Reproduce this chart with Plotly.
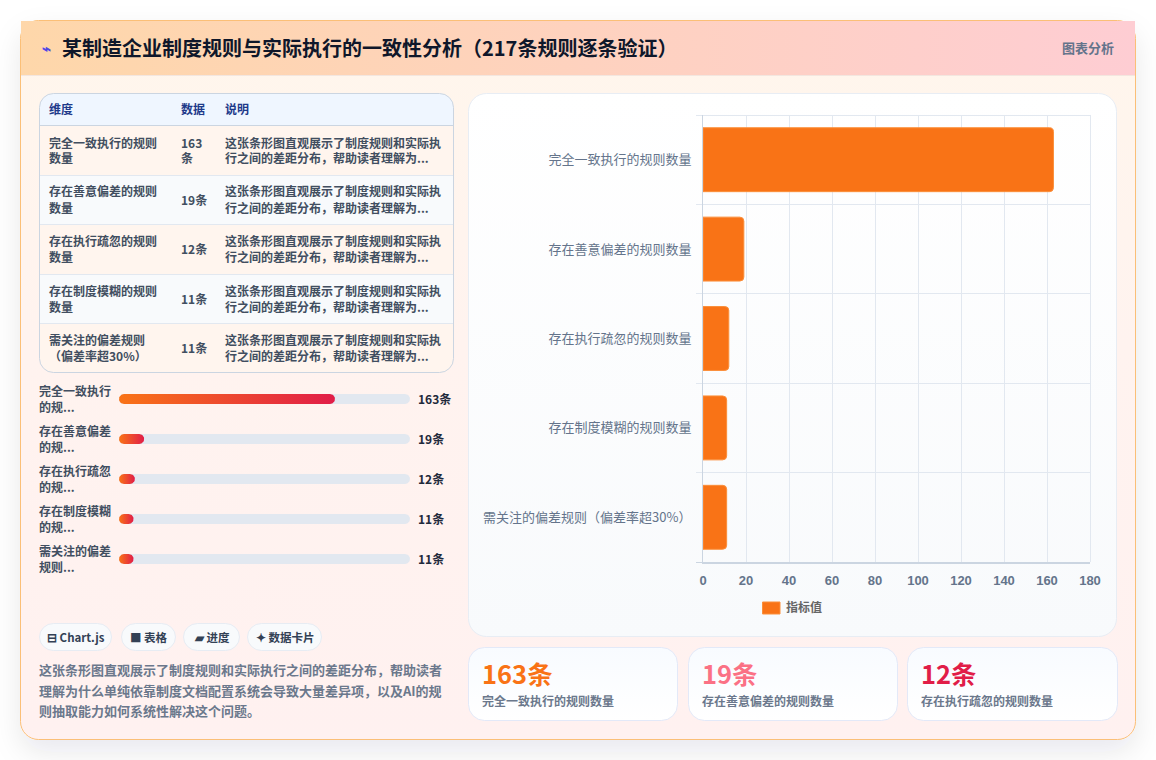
import base64
import numpy as np
import plotly.graph_objects as go

# ---- data ----
categories = ["完全一致执行的规则数量", "存在善意偏差的规则数量", "存在执行疏忽的规则数量",
              "存在制度模糊的规则数量", "需关注的偏差规则（偏差率超30%）"]
rule_counts = [163, 19, 12, 11, 11]
count_unit = "条"
axis_ticks = [0, 20, 40, 60, 80, 100, 120, 140, 160, 180]
series_name = "指标值"

title_icon = "⌁"
title_text = "某制造企业制度规则与实际执行的一致性分析（217条规则逐条验证）"
badge_text = "图表分析"
table_headers = ["维度", "数据", "说明"]
table_labels = [["完全一致执行的规则", "数量"], ["存在善意偏差的规则", "数量"], ["存在执行疏忽的规则", "数量"],
                ["存在制度模糊的规则", "数量"], ["需关注的偏差规则", "（偏差率超30%）"]]
table_note = ["这张条形图直观展示了制度规则和实际执", "行之间的差距分布，帮助读者理解为..."]
progress_labels = [["完全一致执行", "的规..."], ["存在善意偏差", "的规..."], ["存在执行疏忽", "的规..."],
                   ["存在制度模糊", "的规..."], ["需关注的偏差", "规则..."]]
progress_scale_max = 219.6
chip_texts = ["⊟ Chart.js", "■ 表格", "▰ 进度", "✦ 数据卡片"]
summary_lines = ["这张条形图直观展示了制度规则和实际执行之间的差距分布，帮助读者",
                 "理解为什么单纯依靠制度文档配置系统会导致大量差异项，以及AI的规",
                 "则抽取能力如何系统性解决这个问题。"]
card_colors = ["#f97316", "#fb7185", "#e11d48"]

W, H = 1156, 760
CJK = "Noto Sans CJK SC"
ORANGE = "#f97316"
GRID = "#e2e8f0"
AXIS = "#cbd5e1"
BODY_TEXT = "#414e60"
MUTED_TEXT = "#6b788c"


def px(x):
    return x / W


def py(y):
    return 1 - y / H


# ---- panels and page furniture, painted behind the plot ----
ROW_EDGES = [126, 175, 224, 274, 323, 373]
CHIP_BOXES = [(39, 111), (121, 175), (183, 239), (247, 321)]
CARD_BOXES = [(468, 677), (688, 897), (907, 1117)]


def rrect(x0, y0, x1, y1, r, fill, stroke="none", extra=""):
    return (f'<rect x="{x0 + .5}" y="{y0 + .5}" width="{x1 - x0}" height="{y1 - y0}" rx="{r}" '
            f'fill="{fill}" stroke="{stroke}" {extra}/>')


rows_svg = ""
for i in range(5):
    fill = "#fff5ee" if i % 2 == 0 else "#f8fafc"
    rows_svg += f'<rect x="39" y="{ROW_EDGES[i]}" width="416" height="{ROW_EDGES[i + 1] - ROW_EDGES[i]}" fill="{fill}"/>'
    if i:
        rows_svg += f'<rect x="39" y="{ROW_EDGES[i]}" width="416" height="1" fill="{GRID}"/>'

svg = f'''<svg xmlns="http://www.w3.org/2000/svg" width="{W}" height="{H}" viewBox="0 0 {W} {H}">
<defs>
<linearGradient id="body" x1="0" y1="0" x2="0" y2="1"><stop offset="0" stop-color="#fff6ec"/><stop offset=".45" stop-color="#fff3ef"/><stop offset="1" stop-color="#fff1f0"/></linearGradient>
<linearGradient id="head" x1="0" y1="0" x2="1" y2="0"><stop offset="0" stop-color="#fed7aa"/><stop offset="1" stop-color="#fecdd3"/></linearGradient>
<linearGradient id="panel" x1="0" y1="0" x2="0" y2="1"><stop offset="0" stop-color="#ffffff"/><stop offset="1" stop-color="#f8fafc"/></linearGradient>
<linearGradient id="card" x1="0" y1="0" x2="0" y2="1"><stop offset="0" stop-color="#f8fbff"/><stop offset="1" stop-color="#ffffff"/></linearGradient>
<filter id="soft" x="-10%" y="-10%" width="120%" height="125%"><feDropShadow dx="0" dy="12" stdDeviation="14" flood-color="#0f172a" flood-opacity="0.09"/></filter>
<clipPath id="tbl"><rect x="39.5" y="93.5" width="414" height="279" rx="14"/></clipPath>
</defs>
<rect width="{W}" height="{H}" fill="#ffffff"/>
{rrect(20, 20, 1135, 739, 18, "url(#body)", "#fbbf77", 'filter="url(#soft)"')}
<rect x="21" y="21" width="1114" height="54" fill="url(#head)"/>
<rect x="21" y="75" width="1114" height="1" fill="#f3e6df"/>
<g clip-path="url(#tbl)">
<rect x="39" y="93" width="416" height="33" fill="#eff6ff"/>
{rows_svg}
<rect x="39" y="125" width="416" height="1" fill="{AXIS}"/>
</g>
{rrect(39, 93, 453, 372, 14, "none", AXIS)}
{rrect(468, 93, 1116, 636, 18, "url(#panel)", "#e8edf4")}
{"".join(rrect(a, 623, b, 650, 14, "#f8fafc", "#e7ecf3") for a, b in CHIP_BOXES)}
{"".join(rrect(a, 647, b, 720, 16, "url(#card)", "#e3e9f8") for a, b in CARD_BOXES)}
</svg>'''
background = "data:image/svg+xml;base64," + base64.b64encode(svg.encode()).decode()

fig = go.Figure()

# ---- main horizontal bar chart ----
fig.add_trace(go.Bar(
    x=rule_counts, y=categories, orientation="h", name=series_name,
    marker=dict(color=ORANGE, line=dict(color="#fb8f3a", width=1)),
    xaxis="x", yaxis="y", hoverinfo="x+y", showlegend=False,
))

# ---- progress rows: pill-shaped outlines on their own hidden axes ----
BAR_PX = 10
ROW_PX = 40
TRACK_PX = 291
x_per_px = progress_scale_max / TRACK_PX
y_per_px = 1 / ROW_PX


def pill(value, row):
    rx = BAR_PX / 2 * x_per_px
    ry = BAR_PX / 2 * y_per_px
    t = np.linspace(-np.pi / 2, np.pi / 2, 24)
    xs = np.concatenate([value - rx + rx * np.cos(t), rx - rx * np.cos(t[::-1]), [value - rx]])
    ys = np.concatenate([row + ry * np.sin(t), row + ry * np.sin(t[::-1]), [row - ry]])
    return xs, ys


for i, value in enumerate(rule_counts):
    xs, ys = pill(progress_scale_max, i)
    fig.add_trace(go.Scatter(x=xs, y=ys, mode="lines", fill="toself", fillcolor=GRID,
                             line=dict(width=0), xaxis="x2", yaxis="y2", hoverinfo="skip", showlegend=False))
for i, value in enumerate(rule_counts):
    xs, ys = pill(value, i)
    fig.add_trace(go.Scatter(
        x=xs, y=ys, mode="lines", fill="toself",
        fillgradient=dict(type="horizontal", colorscale=[[0, "#f97316"], [1, "#e11d48"]]),
        line=dict(width=0), xaxis="x2", yaxis="y2", hoverinfo="skip", showlegend=False))

# ---- text blocks ----
notes = []


def label(x, y, text, size=12, color="#334155", weight=400, anchor="left", family=CJK):
    # annotations sit about a pixel right of and below their nominal position
    notes.append(dict(x=px(x - 1), y=py(y - 1), xref="paper", yref="paper", text=text, showarrow=False,
                      xanchor=anchor, yanchor="middle", align=anchor, borderpad=0,
                      font=dict(family=family, size=size, color=color, weight=weight)))


label(42, 49, title_icon, 15, "#4f46e5", 700)
label(62, 49, title_text, 20, "#0f172a", 700)
label(1116, 48, badge_text, 13, "#64748b", 700, "right")

for x, text in zip((49, 181, 225), table_headers):
    label(x, 110, text, 12, "#1e3a8a", 700)

for i, (lines, value) in enumerate(zip(table_labels, rule_counts)):
    mid = (ROW_EDGES[i] + ROW_EDGES[i + 1]) / 2 + 0.5
    label(49, mid - 8, lines[0], 12, BODY_TEXT, 600)
    label(49, mid + 8, lines[1], 12, BODY_TEXT, 600)
    if len(str(value)) > 2:
        label(181, mid - 8, str(value), 12, BODY_TEXT, 600)
        label(181, mid + 8, count_unit, 12, BODY_TEXT, 600)
    else:
        label(181, mid, f"{value}{count_unit}", 12, BODY_TEXT, 600)
    label(225, mid - 8, table_note[0], 12, BODY_TEXT, 600)
    label(225, mid + 8, table_note[1], 12, BODY_TEXT, 600)

for i, (lines, value) in enumerate(zip(progress_labels, rule_counts)):
    mid = 399.5 + ROW_PX * i
    label(39, mid - 8, lines[0], 12, BODY_TEXT, 600)
    label(39, mid + 8, lines[1], 12, BODY_TEXT, 600)
    label(418, mid, f"{value}{count_unit}", 12, "#1e293b", 700)

for (a, b), text in zip(CHIP_BOXES, chip_texts):
    label((a + b) / 2 + 2, 637.5, text, 11.5, "#334155", 700, "center")

for y, text in zip((670, 691, 711), summary_lines):
    label(39, y, text, 13, MUTED_TEXT, 700)

for (a, _), name, value, color in zip(CARD_BOXES, categories, rule_counts, card_colors):
    label(a + 14, 673, f"{value}{count_unit}", 25.5, color, 700)
    label(a + 14, 701, name, 12, MUTED_TEXT, 600)

label(786, 607, series_name, 12, "#666666", 600)

# legend swatch plus the plot-frame lines a gridline cannot draw at the axis edges
frame_style = dict(type="line", xref="paper", yref="paper", layer="below")
page_shapes = [
    dict(type="rect", xref="paper", yref="paper", x0=px(762.5), x1=px(780), y0=py(614), y1=py(602),
         fillcolor=ORANGE, line=dict(color="#fb8f3a", width=1)),
    dict(frame_style, x0=px(703), x1=px(1090.5), y0=py(115.5), y1=py(115.5), line=dict(color=GRID, width=1)),
    dict(frame_style, x0=px(1090.5), x1=px(1090.5), y0=py(115), y1=py(562), line=dict(color=GRID, width=1)),
    dict(frame_style, x0=px(696), x1=px(703), y0=py(562.5), y1=py(562.5), line=dict(color=AXIS, width=1)),
]

fig.update_layout(
    width=W, height=H, margin=dict(l=0, r=0, t=0, b=0, autoexpand=False), autosize=False,
    paper_bgcolor="#ffffff", plot_bgcolor="rgba(0,0,0,0)",
    showlegend=False, bargap=0.285, barcornerradius=4,
    font=dict(family=CJK),
    images=[dict(source=background, xref="paper", yref="paper", x=0, y=1, sizex=1, sizey=1,
                 xanchor="left", yanchor="top", sizing="stretch", layer="below")],
    shapes=page_shapes,
    annotations=notes,
    xaxis=dict(domain=[px(703), px(1090)], range=[0, 180], tickvals=axis_ticks, anchor="y",
               showgrid=True, gridcolor=GRID, gridwidth=1, zeroline=False,
               showline=True, linecolor=AXIS, linewidth=1.5, ticks="", ticklabelstandoff=6,
               tickfont=dict(family="Liberation Sans", size=13, color="#64748b", weight=700),
               fixedrange=True),
    yaxis=dict(domain=[py(562), py(115)], type="category", categoryorder="array", categoryarray=categories,
               autorange="reversed", anchor="x", tickson="boundaries", ticks="outside", ticklen=6,
               tickcolor=GRID, showgrid=True, gridcolor=GRID, gridwidth=1, zeroline=False,
               showline=True, linecolor=AXIS, linewidth=1, ticklabelstandoff=8,
               tickfont=dict(family=CJK, size=13, color="#64748b"), fixedrange=True),
    xaxis2=dict(domain=[px(119), px(410)], range=[0, progress_scale_max], visible=False, anchor="y2", fixedrange=True),
    yaxis2=dict(domain=[py(579), py(379)], range=[4.5, -0.5], visible=False, anchor="x2", fixedrange=True),
)

fig.write_html("out.html", config=dict(displayModeBar=False))
